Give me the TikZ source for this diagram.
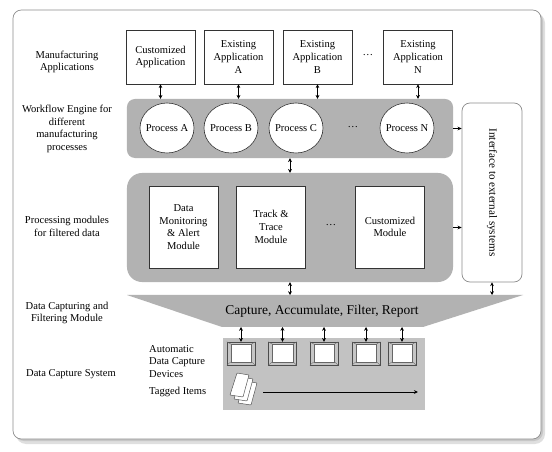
\documentclass[tikz,border=0pt]{standalone}
\usepackage{fontspec}
\setmainfont{Liberation Serif}
\usetikzlibrary{arrows.meta,shapes.geometric}

\definecolor{bandgray}{gray}{0.70}
\definecolor{dcsgray}{gray}{0.76}
\definecolor{framegray}{gray}{0.55}

\tikzset{
	lbl/.style={font=\fontsize{9}{10.8}\selectfont, align=center, inner sep=0pt},
	appbox/.style={draw=black!80, fill=white, line width=0.5pt, minimum width=2.07cm, minimum height=1.62cm, align=center, font=\fontsize{9}{10.8}\selectfont, inner sep=1pt},
	procell/.style={draw=black!80, fill=white, ellipse, line width=0.5pt, minimum width=1.62cm, minimum height=1.5cm, font=\fontsize{9}{10.8}\selectfont, inner xsep=-4pt, inner ysep=0pt},
	modbox/.style={draw=black!80, fill=white, line width=0.5pt, minimum width=2.07cm, minimum height=2.46cm, align=center, font=\fontsize{9}{10.8}\selectfont, inner sep=1pt},
	band/.style={fill=bandgray, draw=none, minimum width=9.78cm},
	devbox/.style={draw=black!70, fill=gray!45, line width=0.4pt, minimum width=0.84cm, minimum height=0.69cm, inner sep=0pt},
	link/.style={{Stealth[length=3.2pt,width=3.2pt]}-{Stealth[length=3.2pt,width=3.2pt]}, line width=0.8pt},
	feed/.style={-{Stealth[length=3.5pt,width=3.2pt]}, line width=0.8pt}
}

\begin{document}
\begin{tikzpicture}[x=0.03cm,y=-0.03cm]
	\useasboundingbox (0,0) rectangle (552,452);

	% frame with shadow
	\fill[gray!25, rounded corners=0.3cm] (16,13) rectangle (545,444);
	\fill[gray!45, rounded corners=0.27cm] (15,12) rectangle (543,441);
	\draw[framegray, fill=white, line width=0.6pt, rounded corners=0.25cm] (13,10) rectangle (541,439);

	% layer labels
	\node[lbl] (l1) at (67,62) {Manufacturing\\Applications};
	\node[lbl] (l2) at (67,129) {Workflow Engine for\\different\\manufacturing\\processes};
	\node[lbl] (l3) at (67,226.5) {Processing modules\\for filtered data};
	\node[lbl] (l4) at (67,313) {Data Capturing and\\Filtering Module};
	\node[lbl] (l5) at (71,374) {Data Capture System};

	% applications
	\node[appbox] (app1) at (160.5,57) {Customized\\Application};
	\node[appbox] (app2) at (238.5,57) {Existing\\Application\\A};
	\node[appbox] (app3) at (317.5,57) {Existing\\Application\\B};
	\node[appbox] (app4) at (418,57) {Existing\\Application\\N};
	\node[lbl] (appdots) at (368,55) {\dots};

	% workflow engine
	\node[band, minimum height=1.77cm, rounded corners=0.24cm] (wf) at (290,128.5) {};
	\node[procell] (pA) at (167,128) {Process A};
	\node[procell] (pB) at (231,128) {Process B};
	\node[procell] (pC) at (296,128) {Process C};
	\node[procell] (pN) at (407,128) {Process N};
	\node[lbl] (pdots) at (353,127) {\dots};

	% processing modules
	\node[band, minimum height=3.27cm, rounded corners=0.45cm] (pb) at (290,227.5) {};
	\node[modbox] (m1) at (183.5,227) {Data\\Monitoring\\\& Alert\\Module};
	\node[modbox] (m2) at (271,227) {Track \&\\Trace\\Module};
	\node[modbox] (m3) at (390,227) {Customized\\Module};
	\node[lbl] (mdots) at (331,225) {\dots};

	% interface
	\node[draw=framegray, fill=white, line width=0.6pt, rounded corners=0.24cm, minimum width=1.8cm, minimum height=5.37cm] (iface) at (492,192.5) {};
	\node[rotate=-90, font=\fontsize{9.5}{11}\selectfont] (ifacetext) at (iface.center) {Interface to external systems};

	% capture funnel
	\fill[bandgray] (127,295) -- (523,295) -- (423,327) -- (222,327) -- cycle;
	\coordinate (ftop) at (290,295);
	\coordinate (fbot) at (324,327);
	\node[font=\fontsize{11.5}{13}\selectfont] (capt) at (322,311.5) {Capture, Accumulate, Filter, Report};

	% data capture system
	\node[fill=dcsgray, minimum width=6.06cm, minimum height=2.16cm] (dcs) at (324,374) {};
	\foreach \x [count=\i] in {241,282.5,324,366,402} {
		\node[devbox] (dev\i) at (\x,353.5) {};
		\draw[black!60, fill=white, line width=0.4pt] ([xshift=0.12cm,yshift=-0.07cm]dev\i.north west) coordinate (in1) rectangle ([xshift=-0.11cm,yshift=0.1cm]dev\i.south east) coordinate (in2);
		\draw[black!60, line width=0.3pt] (dev\i.north west) -- (in1) (dev\i.south east) -- (in2) (dev\i.north east) -- (in1 -| in2) (dev\i.south west) -- (in1 |- in2);
		\path[link] (dev\i.north) edge (dev\i.north |- fbot);
	}
	\node[lbl, anchor=west, align=left] (adc) at (149,361.5) {Automatic\\Data Capture\\Devices};
	\node[lbl, anchor=west] (tags) at (149,392) {Tagged Items};

	% tagged items
	\foreach \d in {8,4,0} {
		\draw[black!70, fill=white, line width=0.4pt, rounded corners=0.5pt] (237+\d,373+\d) -- (249+\d,375+\d) -- (243+\d,397+\d) -- (230+\d,395+\d) -- cycle;
	}
	\coordinate (tagstart) at (263,392);
	\coordinate (tagend) at (418,392);
	\path[feed] (tagstart) edge (tagend);

	% connectors
	\path[link] (app1.south) edge (app1.south |- wf.north);
	\path[link] (app2.south) edge (app2.south |- wf.north);
	\path[link] (app3.south) edge (app3.south |- wf.north);
	\path[link] (app4.south) edge (app4.south |- wf.north);
	\path[link] (wf.south) edge (pb.north);
	\path[feed] (wf.east) edge (wf.east -| iface.west);
	\path[feed] (pb.east) edge (pb.east -| iface.west);
	\path[link] (pb.south) edge (pb.south |- ftop);
	\path[link] (iface.south) edge (iface.south |- ftop);
\end{tikzpicture}
\end{document}
